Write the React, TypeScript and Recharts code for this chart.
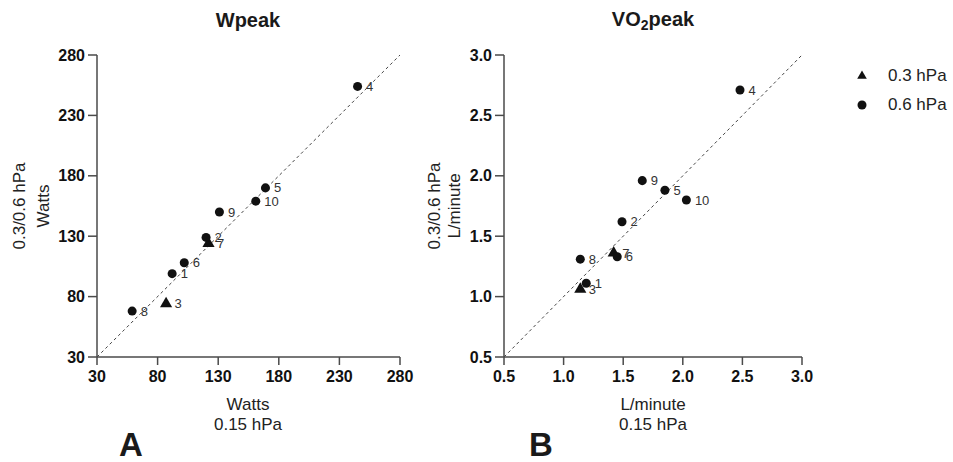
import React from "react";
import {
  ScatterChart,
  Scatter,
  XAxis,
  YAxis,
  ZAxis,
  ReferenceLine,
  LabelList,
  Symbols,
} from "recharts";

// subject numbers and the hPa group each belongs to
const subjectIds = [1, 2, 3, 4, 5, 6, 7, 8, 9, 10];
const subjectGroup = ["0.6", "0.6", "0.3", "0.6", "0.6", "0.6", "0.3", "0.6", "0.6", "0.6"];

// Wpeak (Watts)
const wpeakAt015 = [92, 120, 87, 245, 169, 102, 122, 59, 131, 161];
const wpeakAt0306 = [99, 129, 74, 254, 170, 108, 124, 68, 150, 159];
const wpeakTicks = [30, 80, 130, 180, 230, 280];

// VO2peak (L/minute)
const vo2At015 = [1.19, 1.49, 1.14, 2.48, 1.85, 1.45, 1.42, 1.14, 1.66, 2.03];
const vo2At0306 = [1.11, 1.62, 1.06, 2.71, 1.88, 1.33, 1.36, 1.31, 1.96, 1.8];
const vo2Ticks = [0.5, 1.0, 1.5, 2.0, 2.5, 3.0];

// legend entries
const groupNames = ["0.3 hPa", "0.6 hPa"];
const groupShapes = ["triangle", "circle"];

const FONT = '"Liberation Sans", Arial, Helvetica, sans-serif';
const AXIS = "#4a4a4a";
const INK = "#111";

type Pt = { x: number; y: number; id: number };

function buildPoints(xs: number[], ys: number[], group: string): Pt[] {
  return subjectIds
    .map((id, i) => ({ x: xs[i], y: ys[i], id, g: subjectGroup[i] }))
    .filter((p) => p.g === group)
    .map(({ x, y, id }) => ({ x, y, id }));
}

interface PanelProps {
  left: number;
  width: number;
  yAxisWidth: number;
  rightMargin: number;
  xs: number[];
  ys: number[];
  ticks: number[];
  fmt: (v: number) => string;
}

function Panel({ left, width, yAxisWidth, rightMargin, xs, ys, ticks, fmt }: PanelProps) {
  const lo = ticks[0];
  const hi = ticks[ticks.length - 1];
  const tri = buildPoints(xs, ys, "0.3");
  const dot = buildPoints(xs, ys, "0.6");
  const tickStyle = { fill: INK, fontSize: 16, fontWeight: 700, fontFamily: FONT };

  return (
    <div style={{ position: "absolute", left, top: 0 }}>
      <ScatterChart width={width} height={462} margin={{ top: 55, right: rightMargin, bottom: 0, left: 0 }}>
        <XAxis
          type="number"
          dataKey="x"
          domain={[lo, hi]}
          ticks={ticks}
          tickFormatter={fmt}
          height={105}
          tickSize={8}
          tickMargin={6}
          axisLine={{ stroke: AXIS, strokeWidth: 1.5 }}
          tickLine={{ stroke: AXIS, strokeWidth: 1.5 }}
          tick={tickStyle}
        />
        <YAxis
          type="number"
          dataKey="y"
          domain={[lo, hi]}
          ticks={ticks}
          tickFormatter={fmt}
          width={yAxisWidth}
          tickSize={9}
          tickMargin={3}
          axisLine={{ stroke: AXIS, strokeWidth: 1.5 }}
          tickLine={{ stroke: AXIS, strokeWidth: 1.5 }}
          tick={tickStyle}
        />
        <ZAxis range={[64, 64]} />
        <ZAxis zAxisId="tri" range={[40, 40]} />
        <ReferenceLine
          segment={[
            { x: lo, y: lo },
            { x: hi, y: hi },
          ]}
          stroke="#444"
          strokeWidth={1}
          strokeDasharray="3 3"
        />
        <Scatter name={groupNames[0]} data={tri} shape="triangle" zAxisId="tri" fill={INK} isAnimationActive={false}>
          <LabelList dataKey="id" position="right" offset={4} fill="#333" fontSize={13} fontFamily={FONT} />
        </Scatter>
        <Scatter name={groupNames[1]} data={dot} shape="circle" fill={INK} isAnimationActive={false}>
          <LabelList dataKey="id" position="right" offset={4} fill="#333" fontSize={13} fontFamily={FONT} />
        </Scatter>
      </ScatterChart>
    </div>
  );
}

function Txt({ x, y, size, bold, rotate, children }: any) {
  return (
    <div
      style={{
        position: "absolute",
        left: x,
        top: y,
        transform: `translate(-50%, -50%)${rotate ? " rotate(-90deg)" : ""}`,
        whiteSpace: "nowrap",
        fontSize: size,
        fontWeight: bold ? 700 : 400,
        color: bold ? "#1a1a1a" : "#222",
        lineHeight: 1,
      }}
    >
      {children}
    </div>
  );
}

function GroupLegend() {
  return (
    <div style={{ position: "absolute", left: 852, top: 61 }}>
      {groupNames.map((name, i) => (
        <div key={name} style={{ display: "flex", alignItems: "center", height: 29 }}>
          <svg width={20} height={20} style={{ marginRight: 16 }}>
            <Symbols cx={10} cy={10} type={groupShapes[i] as any} size={groupShapes[i] === "triangle" ? 40 : 64} fill={INK} />
          </svg>
          <span style={{ fontSize: 17, color: "#222" }}>{name}</span>
        </div>
      ))}
    </div>
  );
}

export default function App() {
  return (
    <div
      style={{
        position: "absolute",
        left: 0,
        top: 0,
        width: 953,
        height: 462,
        background: "#fff",
        fontFamily: FONT,
        overflow: "hidden",
      }}
    >
      <Panel left={0} width={430} yAxisWidth={97} rightMargin={30} xs={wpeakAt015} ys={wpeakAt0306} ticks={wpeakTicks} fmt={(v) => String(v)} />
      <Panel left={410} width={430} yAxisWidth={94} rightMargin={38} xs={vo2At015} ys={vo2At0306} ticks={vo2Ticks} fmt={(v) => v.toFixed(1)} />

      <GroupLegend />

      <Txt x={248} y={20} size={20} bold>Wpeak</Txt>
      <Txt x={653} y={20} size={20} bold>
        VO<sub style={{ fontSize: 14, verticalAlign: "-4px" }}>2</sub>peak
      </Txt>

      <Txt x={19} y={206} size={17} rotate>0.3/0.6 hPa</Txt>
      <Txt x={43} y={206} size={17} rotate>Watts</Txt>
      <Txt x={434} y={206} size={17} rotate>0.3/0.6 hPa</Txt>
      <Txt x={454} y={206} size={17} rotate>L/minute</Txt>

      <Txt x={248} y={404} size={17}>Watts</Txt>
      <Txt x={248} y={424} size={17}>0.15 hPa</Txt>
      <Txt x={653} y={404} size={17}>L/minute</Txt>
      <Txt x={653} y={424} size={17}>0.15 hPa</Txt>

      <Txt x={131} y={444} size={33} bold>A</Txt>
      <Txt x={541} y={444} size={33} bold>B</Txt>
    </div>
  );
}
